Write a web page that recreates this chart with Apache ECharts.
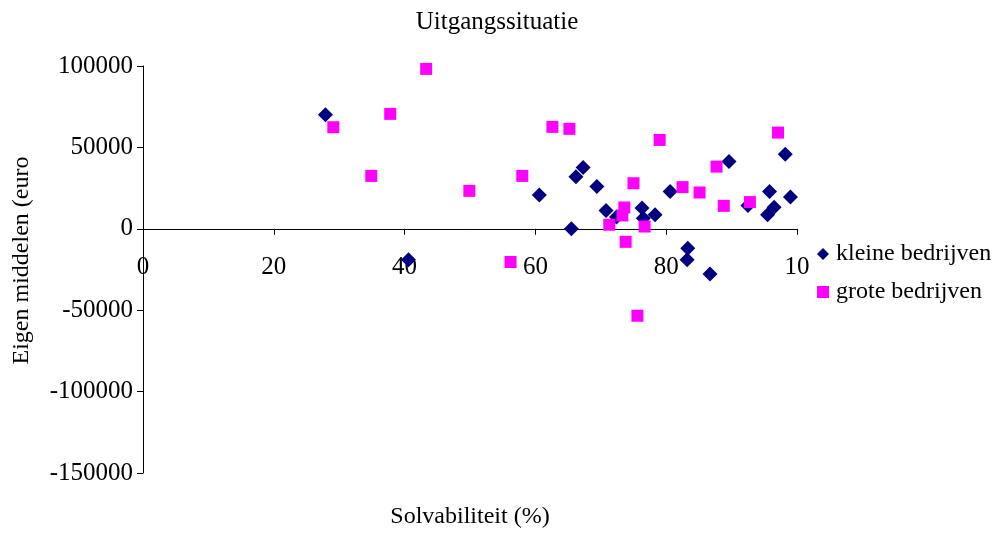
<!DOCTYPE html>
<html><head><meta charset="utf-8">
<script src="https://cdn.jsdelivr.net/npm/echarts@6/dist/echarts.min.js"></script>
<style>html,body{margin:0;padding:0;background:#fff}#c{width:995px;height:533px}</style>
</head><body><div id="c"></div>
<script>
const titleText = 'Uitgangssituatie';
const xName = 'Solvabiliteit (%)';
const yName = 'Eigen middelen (euro';
const seriesNames = ['kleine bedrijven', 'grote bedrijven'];
const xTicks = [0, 20, 40, 60, 80, 100];
const yTicks = [-150000, -100000, -50000, 0, 50000, 100000];

const kleineX = [27.9, 40.6, 60.6, 65.5, 66.2, 67.3, 69.4, 70.8, 72.4, 76.3, 76.5, 78.3, 80.6, 83.3, 83.2, 86.7, 89.6, 92.5, 95.8, 95.5, 96.5, 98.2, 99.0];
const kleineY = [70000, -19000, 20700, 0, 32000, 37600, 26000, 11200, 7200, 12700, 6500, 8600, 22900, -11900, -19000, -27800, 41300, 14300, 22900, 8600, 13300, 45800, 19500];

const groteX = [29.1, 34.9, 37.8, 43.3, 49.9, 56.2, 58.0, 62.6, 65.2, 71.3, 73.3, 73.6, 73.8, 75.0, 75.6, 76.7, 79.0, 82.5, 85.1, 87.7, 88.8, 92.8, 97.1];
const groteY = [62400, 32500, 70600, 98200, 23300, -20400, 32500, 62600, 61400, 2500, 8200, 13100, -8000, 28000, -53400, 1400, 54600, 25600, 22300, 38200, 14100, 16400, 59100];

const font = 'Liberation Serif';
const W = 995, H = 533;
const grid = { left: 143, right: 198, top: 66, bottom: 60 };
const yMin = yTicks[0], yMax = yTicks[yTicks.length - 1];
const gridH = H - grid.top - grid.bottom;
// move the x axis (line, ticks, labels) up to the zero line
const zeroOffset = -gridH * (0 - yMin) / (yMax - yMin);

const chart = echarts.init(document.getElementById('c'));
chart.setOption({
  animation: false,
  backgroundColor: '#fff',
  title: { text: titleText, left: 492, top: 5, textAlign: 'center',
    textStyle: { fontFamily: font, fontSize: 25, fontWeight: 'normal', color: '#000' } },
  legend: {
    orient: 'vertical', left: 812, top: 237, itemGap: 14, itemWidth: 12, itemHeight: 12,
    textStyle: { fontFamily: font, fontSize: 24, color: '#000', padding: [0, 0, 0, 2] },
    data: [{ name: seriesNames[0], icon: 'diamond' }, { name: seriesNames[1], icon: 'rect' }]
  },
  grid: Object.assign({ containLabel: false, outerBoundsMode: 'none' }, grid),
  xAxis: {
    type: 'value', min: xTicks[0], max: xTicks[xTicks.length - 1], interval: 20,
    position: 'bottom', offset: zeroOffset,
    name: xName, nameLocation: 'middle', nameGap: 276,
    nameTextStyle: { fontFamily: font, fontSize: 24, color: '#000' },
    axisLine: { onZero: false, lineStyle: { color: '#000', width: 1 } },
    axisTick: { show: true, inside: false, length: 6, lineStyle: { color: '#000' } },
    axisLabel: { margin: 26, fontFamily: font, fontSize: 25, color: '#000',
      formatter: v => v === 100 ? '10' : String(v) },
    splitLine: { show: false }
  },
  yAxis: {
    type: 'value', min: yMin, max: yMax, interval: 50000,
    name: yName, nameLocation: 'middle', nameGap: 109, nameRotate: 90,
    nameTextStyle: { fontFamily: font, fontSize: 24, color: '#000', padding: [0, 0, 0, 18] },
    axisLine: { show: true, lineStyle: { color: '#000', width: 1 } },
    axisTick: { show: true, inside: false, length: 6, lineStyle: { color: '#000' } },
    axisLabel: { margin: 10, fontFamily: font, fontSize: 25, color: '#000',
      formatter: v => String(v) },
    splitLine: { show: false }
  },
  series: [
    { name: seriesNames[0], type: 'scatter', symbol: 'diamond', symbolSize: 15,
      itemStyle: { color: '#000080', opacity: 1 },
      data: kleineX.map((x, i) => [x, kleineY[i]]) },
    { name: seriesNames[1], type: 'scatter', symbol: 'rect', symbolSize: 12,
      itemStyle: { color: '#FF00FF', opacity: 1 },
      data: groteX.map((x, i) => [x, groteY[i]]) }
  ]
});
</script></body></html>
